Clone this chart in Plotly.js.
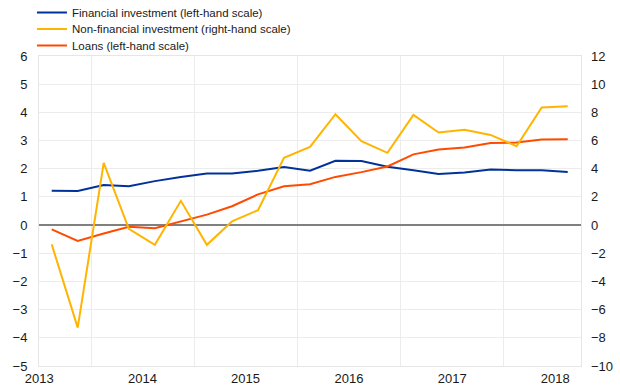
<!DOCTYPE html>
<html>
<head>
<meta charset="utf-8">
<script src="https://cdn.plot.ly/plotly-3.0.1.min.js"></script>
<style>html,body{margin:0;padding:0;background:#fff;}#chart{width:620px;height:388px;}</style>
</head>
<body>
<div id="chart"></div>
<script>
// Quarterly observations, 2013 Q3 - 2018 Q3 (plotted at mid-quarter)
var quarters = ['2013-08-15','2013-11-15','2014-02-15','2014-05-15','2014-08-15','2014-11-15',
  '2015-02-15','2015-05-15','2015-08-15','2015-11-15','2016-02-15','2016-05-15','2016-08-15',
  '2016-11-15','2017-02-15','2017-05-15','2017-08-15','2017-11-15','2018-02-15','2018-05-15','2018-08-15'];
var financialInvestment = [1.22,1.21,1.42,1.38,1.56,1.71,1.83,1.83,1.93,2.06,1.93,2.28,2.27,2.07,1.95,1.81,1.87,1.97,1.95,1.95,1.88];
var nonFinancialInvestment = [-1.37,-7.28,4.42,-0.26,-1.40,1.72,-1.40,0.26,1.06,4.77,5.55,7.87,5.96,5.13,7.82,6.57,6.76,6.40,5.60,8.35,8.44];
var loans = [-0.15,-0.56,-0.30,-0.06,-0.11,0.12,0.37,0.67,1.09,1.38,1.45,1.71,1.88,2.08,2.51,2.68,2.75,2.91,2.93,3.04,3.05];
var yearLabelPos = ['2013-07-02','2014-07-02','2015-07-02','2016-07-02','2017-07-02','2018-07-02'];
var yearLabels = ['2013','2014','2015','2016','2017','2018'];
var yearBoundaries = ['2014-01-01','2015-01-01','2016-01-01','2017-01-01','2018-01-01'];

var tickFont = {family: 'Liberation Sans, Arial, sans-serif', size: 13, color: '#1a1a1a'};
var legendFont = {family: 'Liberation Sans, Arial, sans-serif', size: 11.5, color: '#1a1a1a'};
var traces = [
  {x: quarters, y: financialInvestment, type: 'scatter', mode: 'lines', name: 'Financial investment (left-hand scale)',
   line: {color: '#003299', width: 2}, yaxis: 'y', legend: 'legend'},
  {x: quarters, y: nonFinancialInvestment, type: 'scatter', mode: 'lines', name: 'Non-financial investment (right-hand scale)',
   line: {color: '#ffb400', width: 2}, yaxis: 'y2', legend: 'legend2'},
  {x: quarters, y: loans, type: 'scatter', mode: 'lines', name: 'Loans (left-hand scale)',
   line: {color: '#ff4b00', width: 2}, yaxis: 'y', legend: 'legend3'}
];
function leg(yv) {
  return {x: -0.013, y: yv, xanchor: 'left', yanchor: 'middle', orientation: 'v',
    font: legendFont, bgcolor: 'rgba(0,0,0,0)', borderwidth: 0};
}
var layout = {
  width: 620, height: 388,
  margin: {l: 39, r: 39, t: 56, b: 22, pad: 0, autoexpand: false},
  paper_bgcolor: '#ffffff', plot_bgcolor: '#ffffff',
  showlegend: true,
  legend: leg(1.1403),
  legend2: leg(1.0871),
  legend3: leg(1.0339),
  xaxis: {type: 'date', range: ['2013-07-01', '2018-10-01'],
    tickmode: 'array', tickvals: yearLabelPos, ticktext: yearLabels,
    showgrid: false, zeroline: false, ticks: '', tickfont: tickFont,
    showline: true, linecolor: '#e6e6e6', linewidth: 1, mirror: true,
    minor: {tickmode: 'array', tickvals: yearBoundaries, showgrid: true, gridcolor: '#ececec', gridwidth: 1, ticks: ''}},
  yaxis: {range: [-5, 6], dtick: 1, tick0: 0, showgrid: true, gridcolor: '#ececec', gridwidth: 1,
    zeroline: true, zerolinecolor: '#808080', zerolinewidth: 1.4,
    ticks: '', tickfont: tickFont, ticklabelstandoff: 8,
    showline: true, linecolor: '#e6e6e6', linewidth: 1, mirror: true},
  yaxis2: {range: [-10, 12], dtick: 2, tick0: 0, overlaying: 'y', side: 'right',
    showgrid: false, zeroline: false, ticks: '', tickfont: tickFont, ticklabelstandoff: 9}
};
Plotly.newPlot('chart', traces, layout, {displayModeBar: false, staticPlot: true});
</script>
</body>
</html>
